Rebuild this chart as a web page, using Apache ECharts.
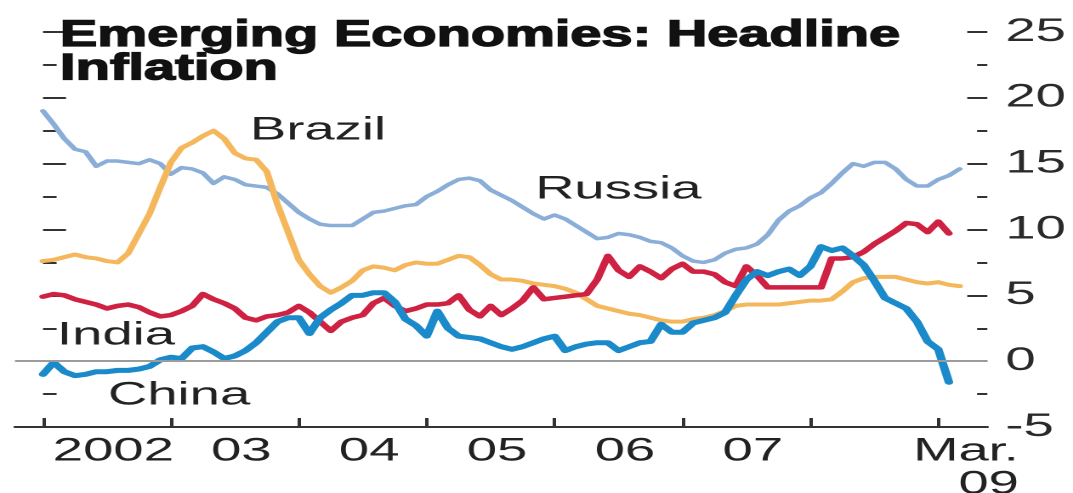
<!DOCTYPE html>
<html>
<head>
<meta charset="utf-8">
<script src="https://cdn.jsdelivr.net/npm/echarts@6/dist/echarts.min.js"></script>
<style>
  html, body { margin: 0; padding: 0; background: #fff; overflow: hidden; }
  /* The chart is laid out narrow and widened horizontally, giving the wide lettering of the print graphic */
  #chart { width: 631px; height: 493px; transform: scaleX(1.70048); transform-origin: 0 0; }
</style>
</head>
<body>
<div id="chart"></div>
<script>
// Monthly headline inflation, % year on year, Jan 2002 onwards
const russia = [
  19.0, 18.0, 16.9, 16.1, 15.9, 14.8, 15.2, 15.2, 15.1, 15.0, 15.3, 15.0,
  14.2, 14.7, 14.6, 14.3, 13.5, 14.0, 13.8, 13.4, 13.3, 13.2, 12.7, 12.0,
  11.3, 10.8, 10.4, 10.3, 10.3, 10.3, 10.8, 11.3, 11.4, 11.6, 11.8, 11.9,
  12.5, 12.9, 13.4, 13.8, 13.9, 13.7, 13.0, 12.6, 12.2, 11.7, 11.2, 10.8,
  11.1, 10.8, 10.3, 9.8, 9.3, 9.4, 9.7, 9.6, 9.4, 9.1, 9.0, 8.6,
  8.0, 7.6, 7.5, 7.7, 8.2, 8.5, 8.6, 8.9, 9.6, 10.7, 11.4, 11.8,
  12.4, 12.8, 13.5, 14.3, 15.0, 14.8, 15.1, 15.1, 14.6, 13.8, 13.3, 13.3,
  13.8, 14.1, 14.6
];
const brazil = [
  7.6, 7.7, 7.9, 8.1, 7.9, 7.8, 7.6, 7.5, 8.2, 9.7, 11.2, 13.2,
  15.1, 16.2, 16.6, 17.1, 17.5, 16.9, 15.8, 15.4, 15.3, 14.4, 11.9, 9.8,
  7.7, 6.6, 5.7, 5.2, 5.6, 6.1, 6.9, 7.2, 7.1, 6.9, 7.3, 7.5,
  7.4, 7.4, 7.7, 8.0, 7.9, 7.3, 6.6, 6.2, 6.2, 6.1, 5.9, 5.8,
  5.7, 5.5, 5.2, 4.7, 4.2, 4.0, 3.8, 3.6, 3.5, 3.3, 3.1, 3.0,
  3.0, 3.2, 3.3, 3.5, 3.8, 4.2, 4.3, 4.3, 4.3, 4.3, 4.4, 4.5,
  4.6, 4.6, 4.7, 5.3, 6.0, 6.3, 6.4, 6.4, 6.4, 6.2, 6.0, 5.9,
  6.0, 5.8, 5.7
];
const india = [
  4.9, 5.1, 5.0, 4.7, 4.5, 4.3, 4.0, 4.2, 4.3, 4.1, 3.7, 3.4,
  3.5, 3.8, 4.2, 5.1, 4.7, 4.4, 4.0, 3.3, 3.1, 3.4, 3.5, 3.7,
  4.2, 3.7, 3.0, 2.3, 3.0, 3.3, 3.5, 4.4, 4.8, 4.2, 3.8, 4.0,
  4.3, 4.3, 4.4, 5.0, 3.9, 3.4, 4.2, 3.5, 4.0, 4.6, 5.6, 4.7,
  4.8, 4.9, 5.0, 5.1, 6.2, 8.0, 6.9, 6.4, 7.2, 6.8, 6.3, 7.0,
  7.4, 6.8, 6.8, 6.6, 6.0, 5.7, 7.2, 6.5, 5.6, 5.6, 5.6, 5.6,
  5.6, 5.6, 7.8, 7.8, 7.9, 8.3, 8.9, 9.4, 9.9, 10.5, 10.4, 9.8,
  10.6, 9.7
];
const china = [
  -1.0, -0.1, -0.8, -1.1, -1.0, -0.8, -0.8, -0.7, -0.7, -0.6, -0.4, 0.1,
  0.3, 0.2, 1.0, 1.1, 0.7, 0.2, 0.4, 0.8, 1.4, 2.2, 3.0, 3.3,
  3.3, 2.1, 3.3, 3.9, 4.4, 5.0, 5.0, 5.2, 5.2, 4.5, 3.2, 2.7,
  1.9, 3.8, 2.5, 1.9, 1.8, 1.7, 1.4, 1.1, 0.9, 1.1, 1.4, 1.7,
  1.9, 0.8, 1.1, 1.3, 1.4, 1.4, 0.8, 1.1, 1.4, 1.5, 2.8, 2.2,
  2.2, 2.9, 3.1, 3.3, 3.7, 5.0, 6.2, 6.8, 6.5, 6.8, 7.0, 6.5,
  7.2, 8.7, 8.4, 8.6, 8.0, 7.3, 6.1, 4.8, 4.4, 4.0, 3.0, 1.5,
  0.9, -1.6
];

// Year labels on the time axis and the right-hand value ticks
const xLabels = ['2002', '03', '04', '05', '06', '07', 'Mar.\n09'];
const yTicks = [-5, 0, 5, 10, 15, 20, 25];

// Axis geometry (months counted from Jan 2002)
const yearStarts = [0, 12, 24, 36, 48, 60, 72, 84];
const labelAt = [6.6, 18.6, 30.6, 42.6, 54.6, 66.6, 86.6];

const toPoints = arr => arr.map((v, i) => [i, v]);

const FONT = '"Liberation Sans", Arial, Helvetica, sans-serif';
const chart = echarts.init(document.getElementById('chart'), null, { devicePixelRatio: 2 });

function lineSeries(name, data, color, width) {
  return {
    name, type: 'line', data: toPoints(data), yAxisIndex: 0,
    showSymbol: false, symbol: 'none', smooth: false, z: 3,
    lineStyle: { color, width, cap: 'round', join: 'round' },
    emphasis: { disabled: true }
  };
}

function seriesName(text, x, y) {
  return { type: 'text', x, y, z: 10, style: {
    text, font: '32px ' + FONT, fill: '#222',
    textVerticalAlign: 'middle', verticalAlign: 'middle' } };
}

function titleLine(text, y) {
  return { type: 'text', x: 35.3, y, z: 10, scaleX: 0.89, style: {
    text, font: 'bold 37px ' + FONT, fill: '#111', stroke: '#111', lineWidth: 1.3,
    textVerticalAlign: 'middle', verticalAlign: 'middle' } };
}

chart.setOption({
  animation: false,
  backgroundColor: '#fff',
  grid: { left: 8.8, right: 50.4, top: 32, bottom: 66, containLabel: false, outerBoundsMode: 'none' },
  xAxis: {
    type: 'value', min: -2.63, max: 88.6,
    splitLine: { show: false },
    axisLine: { show: true, onZero: false, lineStyle: { color: '#333', width: 2 } },
    axisTick: { show: true, inside: true, length: 9, customValues: yearStarts,
                lineStyle: { color: '#333', width: 2 } },
    axisLabel: {
      customValues: labelAt, margin: 8,
      fontFamily: FONT, fontSize: 32, color: '#222', lineHeight: 33,
      formatter: v => {
        const i = labelAt.findIndex(p => Math.abs(p - v) < 0.01);
        const t = i < 0 ? '' : xLabels[i];
        return t.includes('\n') ? t.split('\n').map(s => '{r|' + s + '}').join('\n') : t;
      },
      rich: { r: { align: 'right', fontFamily: FONT, fontSize: 32, color: '#222', lineHeight: 33 } }
    }
  },
  yAxis: [
    {
      type: 'value', position: 'left', min: -5, max: 25, interval: 5,
      axisLine: { show: false },
      axisTick: { show: true, inside: true, length: 13.5, lineStyle: { color: '#333', width: 2 } },
      minorTick: { show: true, splitNumber: 2, length: 8, lineStyle: { color: '#333', width: 2 } },
      axisLabel: { show: false },
      splitLine: { show: false }, minorSplitLine: { show: false }
    },
    {
      type: 'value', position: 'right', min: -5, max: 25, interval: 5,
      axisLine: { show: false },
      axisTick: { show: true, inside: true, length: 11.8, lineStyle: { color: '#333', width: 2 } },
      minorTick: { show: true, splitNumber: 2, length: 6, lineStyle: { color: '#333', width: 2 } },
      axisLabel: {
        margin: 10.6, fontFamily: FONT, fontSize: 32, color: '#2a2a2a',
        formatter: v => (yTicks.includes(v) ? String(v) : '')
      },
      splitLine: { show: false }, minorSplitLine: { show: false }
    }
  ],
  series: [
    {
      name: 'zero', type: 'line', data: [], z: 1, silent: true,
      markLine: {
        silent: true, symbol: 'none', animation: false,
        label: { show: false },
        lineStyle: { color: '#9b9b9b', width: 2, type: 'solid' },
        data: [{ yAxis: 0 }]
      }
    },
    lineSeries('Russia', russia, '#8aaed8', 3.5),
    lineSeries('Brazil', brazil, '#f5b75c', 4),
    lineSeries('India', india, '#cf2142', 4.5),
    lineSeries('China', china, '#1b8acb', 5)
  ],
  graphic: [
    titleLine('Emerging Economies: Headline', 36),
    titleLine('Inflation', 69.5),
    seriesName('Brazil', 147, 130.5),
    seriesName('Russia', 314.7, 189.5),
    seriesName('India', 33.5, 335.5),
    seriesName('China', 63.5, 395.5)
  ]
});
</script>
</body>
</html>
